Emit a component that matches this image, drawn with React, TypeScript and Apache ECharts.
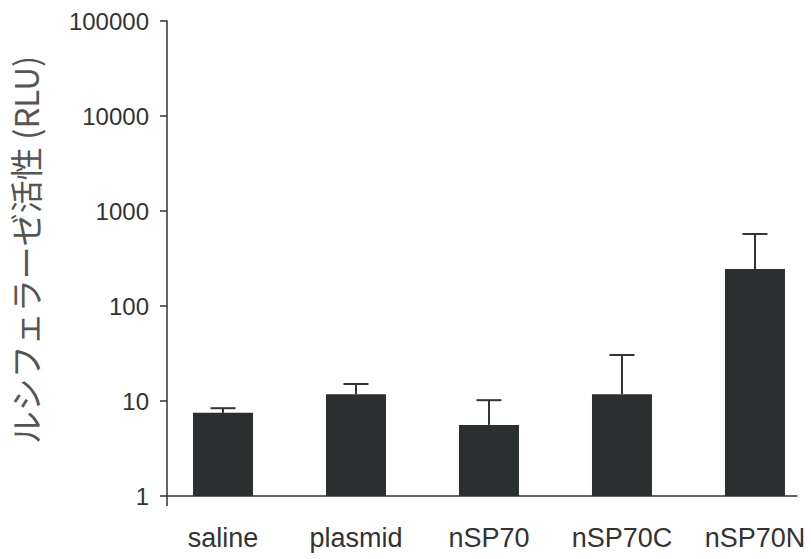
import React, { useEffect, useRef } from "react";
import * as echarts from "echarts";

const categories = ["saline", "plasmid", "nSP70", "nSP70C", "nSP70N"];
const means = [7.5, 11.8, 5.6, 11.8, 245];
const errTops = [8.4, 15.1, 10.2, 30.5, 573];
const yTickValues = [1, 10, 100, 1000, 10000, 100000];
const yTitle = "ルシフェラーゼ活性 (RLU)";

const TEXT_COLOR = "#333";
const BAR_COLOR = "#2b2f30";
const FONT = "'Liberation Sans', Arial, sans-serif";

export default function App() {
  const ref = useRef<HTMLDivElement>(null);
  useEffect(() => {
    if (!ref.current) return;
    const chart = echarts.init(ref.current, undefined, { renderer: "svg" });
    const barData = means.map((v, i) => [i, v]);
    const errData = means.map((v, i) => [i, v, errTops[i]]);
    chart.setOption({
      animation: false,
      backgroundColor: "#fff",
      grid: { left: 167, right: 14, top: 21, bottom: 63, containLabel: false },
      xAxis: {
        type: "value",
        min: -0.421,
        max: 4.316,
        splitLine: { show: false },
        axisTick: { show: false },
        axisLine: { show: true, onZero: false, lineStyle: { color: "#333", width: 1.5 } },
        axisLabel: {
          customValues: [0, 1, 2, 3, 4],
          formatter: (v: number) => categories[Math.round(v)] ?? "",
          color: TEXT_COLOR,
          fontSize: 27,
          fontFamily: FONT,
          margin: 28,
        },
      },
      yAxis: {
        type: "log",
        logBase: 10,
        min: 1,
        max: 100000,
        splitLine: { show: false },
        axisLine: { show: true, onZero: false, lineStyle: { color: "#333", width: 1.5 } },
        axisTick: { show: true, length: 7, lineStyle: { color: "#333", width: 1.5 } },
        axisLabel: {
          color: TEXT_COLOR,
          fontSize: 24,
          fontFamily: FONT,
          margin: 18,
          customValues: yTickValues,
          formatter: (v: number) => String(Math.round(v)),
        },
      },
      graphic: [
        {
          type: "line",
          shape: { x1: 167, y1: 496, x2: 167, y2: 506 },
          style: { stroke: "#333", lineWidth: 1.5 },
        },
        {
          type: "text",
          x: 25,
          y: 250,
          rotation: Math.PI / 2,
          style: {
            text: yTitle,
            font: "33px 'Noto Sans CJK JP', sans-serif",
            fill: "#555",
            align: "center",
            verticalAlign: "middle",
          },
        },
      ],
      series: [
        {
          type: "bar",
          data: barData,
          barWidth: 60,
          itemStyle: { color: BAR_COLOR },
          z: 2,
        },
        {
          type: "custom",
          data: errData,
          z: 3,
          renderItem: (params: any, api: any) => {
            const x = api.value(0);
            const base = api.coord([x, api.value(1)]);
            const top = api.coord([x, api.value(2)]);
            const half = 12.5;
            return {
              type: "group",
              children: [
                {
                  type: "line",
                  shape: { x1: base[0], y1: base[1], x2: top[0], y2: top[1] },
                  style: { stroke: "#333", lineWidth: 2 },
                },
                {
                  type: "line",
                  shape: { x1: top[0] - half, y1: top[1], x2: top[0] + half, y2: top[1] },
                  style: { stroke: "#333", lineWidth: 2 },
                },
              ],
            };
          },
        },
      ],
    });
    return () => chart.dispose();
  }, []);
  return (
    <div
      ref={ref}
      style={{ position: "fixed", left: 0, top: 0, width: 811, height: 559 }}
    />
  );
}
